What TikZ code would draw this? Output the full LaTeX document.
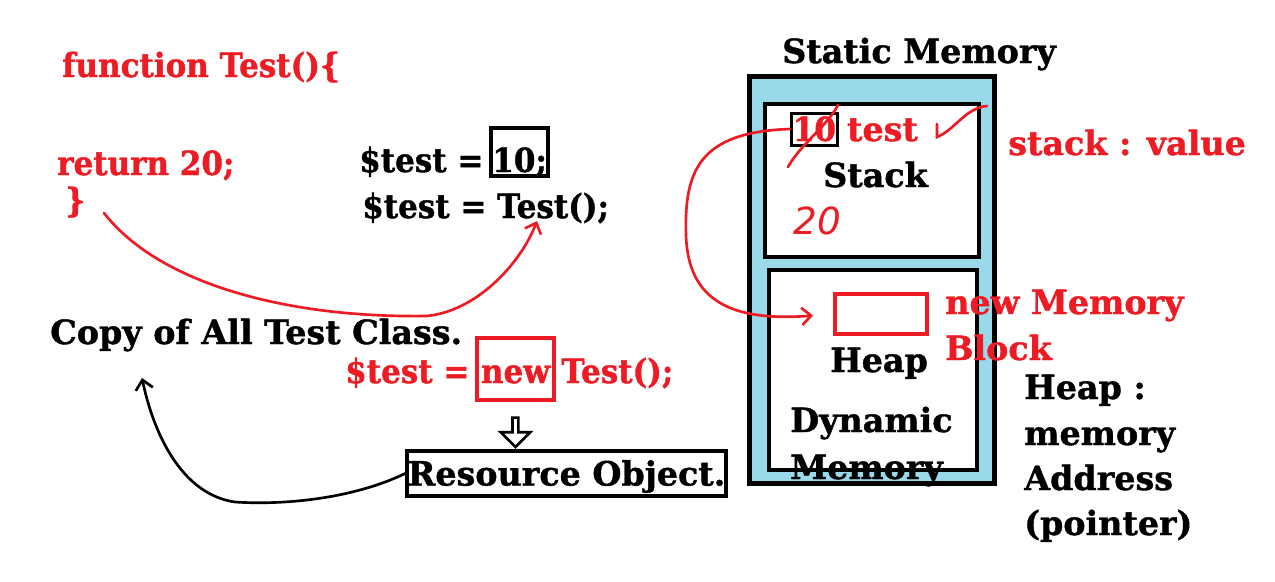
\documentclass[tikz,border=0pt]{standalone}
\usepackage{fontspec}
\setmainfont{DejaVu Serif}[BoldFeatures={FakeBold=1.2}]
\newfontfamily\codefont{DejaVu Serif}[FakeStretch=0.93, BoldFeatures={FakeBold=1.2}]
\newfontfamily\handfont{DejaVu Sans}
\usetikzlibrary{arrows.meta,positioning,shapes.arrows}
\definecolor{inkred}{HTML}{ED1C24}
\definecolor{memblue}{HTML}{99D9EA}
\tikzset{
  codetext/.style={font=\fontsize{25}{30}\selectfont\bfseries, inner sep=0pt, anchor=base west},
  codeline/.style={codetext, font=\codefont\fontsize{25}{30}\selectfont\bfseries},
  redtext/.style={codetext, text=inkred},
  redline/.style={codeline, text=inkred},
  memframe/.style={draw, line width=3pt, inner sep=0pt},
  redpen/.style={draw=inkred, line width=2pt, line cap=round},
  barb/.style={-{Straight Barb[length=7pt, width=13pt]}}
}

\begin{document}
\begin{tikzpicture}[x=0.75pt, y=-0.75pt]
  \useasboundingbox (0,0) rectangle (1275,582);

  % the function and the calls
  \node[redline] (fundef) at (62,77) {function Test()\{};
  \node[redline] (ret) at (57,175) {return 20;};
  \node[redline] (close) at (65,212) {\}};
  \node[codeline, draw, line width=3pt, inner xsep=1pt, inner ysep=0pt, text height=33pt, text depth=3pt] (ten) at (489,172) {10;};
  \node[codeline, base left=4pt of ten] (assign1) {\$test =};
  \node[codeline] (call) at (362,218) {\$test = Test();};
  \node[codetext] (copy) at (50,344) {Copy of All Test Class.};
  \node[redline, draw=inkred, line width=3pt, inner xsep=3pt, inner ysep=0pt, text height=34pt, text depth=12.75pt] (newkw) at (475,383) {new};
  \node[redline, base left=4pt of newkw] (assign2) {\$test =};
  \node[redline, base right=4pt of newkw] (ctor) {Test();};
  \node[codetext, draw, line width=3pt, anchor=center, minimum width=239pt, minimum height=34pt, text height=18pt, text depth=0pt] (resobj) at (566.5,473.5) {Resource Object.};
  \node[single arrow, draw, line width=2pt, fill=white, shape border rotate=270, inner sep=0pt, minimum width=22pt, minimum height=22pt, single arrow head extend=4pt, anchor=tip] (down) at (newkw.south |- resobj.north) {};

  % memory
  \node[memframe, line width=3.75pt, fill=memblue, minimum width=183.75pt, minimum height=305.25pt] (static) at (872,280) {};
  \node[codetext] (statictitle) at (782,63) {Static Memory};
  \node[memframe, fill=white, minimum width=160.5pt, minimum height=114.75pt] (stack) at (872,180.5) {};
  \node[memframe, fill=white, minimum width=156pt, minimum height=150pt] (heap) at (873,370) {};
  \node[redline, draw=black, line width=2.25pt, inner xsep=1pt, inner ysep=3pt, text height=18pt, text depth=0pt] (tenbox) at (790,141) {10};
  \node[redtext, base right=6pt of tenbox] (tenvar) {test};
  \node[codetext] (stacklbl) at (823,187) {Stack};
  \node[font=\handfont\itshape\fontsize{28}{32}\selectfont, text=inkred, inner sep=0pt, anchor=base west] (twenty) at (793,234) {20};
  \node[redtext] (stackkey) at (1008,155) {stack : value};
  \node[memframe, draw=inkred, minimum width=69pt, minimum height=30pt] (memblock) at (881,314) {};
  \node[redtext] (newmem) at (945,314) {new Memory};
  \node[redtext] (block) at (945,360) {Block};
  \node[codetext] (heaplbl) at (830,372) {Heap};
  \node[codetext] (dyn) at (790,432) {Dynamic};
  \node[codetext] (dynmem) at (790,479) {Memory};
  \node[codetext] (heapkey) at (1024,399) {Heap :};
  \node[codetext] (heapmem) at (1024,445) {memory};
  \node[codetext] (heapaddr) at (1024,490) {Address};
  \node[codetext] (heapptr) at (1024,535) {(pointer)};

  % scribbles
  \coordinate (retout) at (104,213);
  \coordinate (callin) at (537,221);
  \coordinate (copyin) at (142,378);
  \draw[redpen, barb] (retout) .. controls (160,285) and (290,318) .. (426,316) .. controls (475,312) and (520,265) .. (callin);
  \draw[redpen, barb, shorten >=15pt] (tenbox.west) .. controls (700,132) and (684,170) .. (686,235) .. controls (688,300) and (730,322) .. (memblock.west);
  \draw[line width=2pt, line cap=round, barb] (resobj.west) .. controls (350,500) and (280,505) .. (235,502) .. controls (185,495) and (155,440) .. (copyin);
  \draw[redpen] (838,105) .. controls (828,125) and (800,145) .. (788,167);
  \draw[redpen] (937,124) -- (937,137) .. controls (955,130) and (965,108) .. (987,106);
\end{tikzpicture}
\end{document}
